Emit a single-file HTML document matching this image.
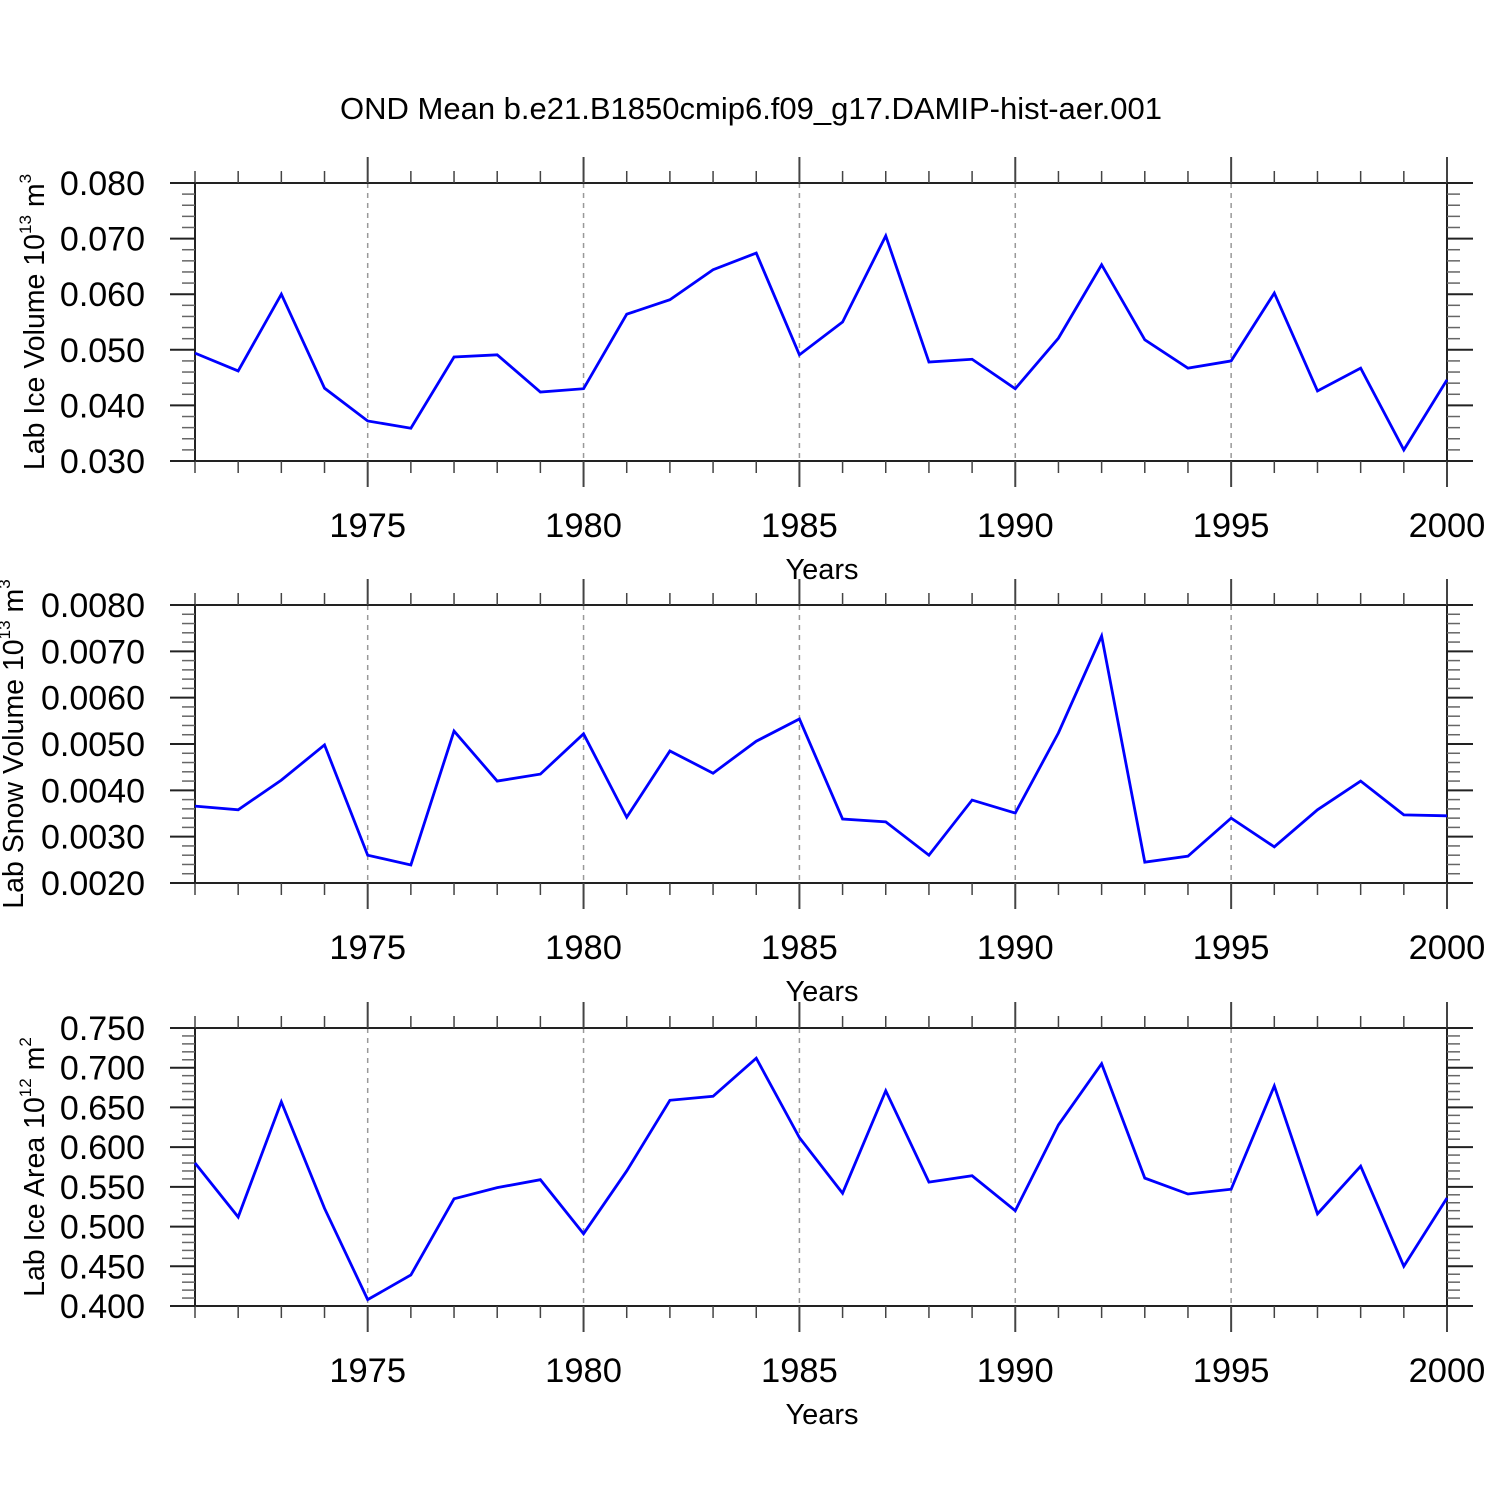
<!DOCTYPE html>
<html><head><meta charset="utf-8"><style>
html,body{margin:0;padding:0;background:#fff}
svg{display:block;font-family:"Liberation Sans",sans-serif}
</style></head><body>
<svg id="chart" width="1500" height="1500" viewBox="0 0 1500 1500">
<text x="751" y="119" font-size="31" text-anchor="middle">OND Mean b.e21.B1850cmip6.f09_g17.DAMIP-hist-aer.001</text>
</svg>
<script>
const years = [1971,1972,1973,1974,1975,1976,1977,1978,1979,1980,1981,1982,1983,1984,1985,1986,1987,1988,1989,1990,1991,1992,1993,1994,1995,1996,1997,1998,1999,2000];
const iceVolume = [0.0494,0.0462,0.0600,0.0431,0.0372,0.0359,0.0487,0.0491,0.0424,0.0430,0.0564,0.0590,0.0644,0.0674,0.0491,0.0550,0.0705,0.0478,0.0483,0.0430,0.0521,0.0653,0.0518,0.0467,0.0480,0.0602,0.0426,0.0467,0.0320,0.0446];
const snowVolume = [0.00366,0.00358,0.00422,0.00498,0.00260,0.00239,0.00528,0.00420,0.00435,0.00522,0.00342,0.00485,0.00437,0.00506,0.00554,0.00338,0.00332,0.00260,0.00379,0.00351,0.00524,0.00733,0.00245,0.00258,0.00340,0.00278,0.00358,0.00420,0.00347,0.00345];
const iceArea = [0.580,0.512,0.657,0.523,0.408,0.439,0.535,0.549,0.559,0.491,0.570,0.659,0.664,0.712,0.612,0.542,0.671,0.556,0.564,0.520,0.628,0.705,0.561,0.541,0.547,0.677,0.516,0.576,0.450,0.536];
const xTickLabels = ["1975","1980","1985","1990","1995","2000"];
const iceVolTicks = ["0.030","0.040","0.050","0.060","0.070","0.080"];
const snowVolTicks = ["0.0020","0.0030","0.0040","0.0050","0.0060","0.0070","0.0080"];
const iceAreaTicks = ["0.400","0.450","0.500","0.550","0.600","0.650","0.700","0.750"];

const svg = document.getElementById('chart');
const NS = 'http://www.w3.org/2000/svg';
function mk(tag, attrs, parent){const e=document.createElementNS(NS,tag);for(const k in attrs)e.setAttribute(k,attrs[k]);(parent||svg).appendChild(e);return e;}
const X0=195, X1=1447, XMIN=1971, XMAX=2000;
const xs = v => X0 + (v-XMIN)/(XMAX-XMIN)*(X1-X0);

function panel(name, top, bottom, values, ticks, nMinor, titleParts, titleX){
  const g = mk('g',{});
  
  
  const ymin=parseFloat(ticks[0]), ymax=parseFloat(ticks[ticks.length-1]);
  const ys = v => bottom - (v-ymin)/(ymax-ymin)*(bottom-top);
  for(let y=1975;y<2000;y+=5){
    const l=mk('line',{x1:xs(y),x2:xs(y),y1:top,y2:bottom,stroke:'#999','stroke-width':1.5,'stroke-dasharray':'5,5'},g);
    
    
  }
  mk('line',{x1:X0,x2:X0,y1:top,y2:bottom,stroke:'#222','stroke-width':2},g);
  mk('line',{x1:X1,x2:X1,y1:top,y2:bottom,stroke:'#222','stroke-width':2},g);
  mk('line',{x1:X0,x2:X1,y1:top,y2:top,stroke:'#222','stroke-width':2},g);
  mk('line',{x1:X0,x2:X1,y1:bottom,y2:bottom,stroke:'#222','stroke-width':2},g);
  for(let y=XMIN;y<=XMAX;y++){
    const maj = y%5===0, x=xs(y);
    const len = maj?26:12;
    mk('line',{x1:x,x2:x,y1:top-len,y2:top,stroke:'#444','stroke-width':maj?2:1.5},g);
    mk('line',{x1:x,x2:x,y1:bottom,y2:bottom+len,stroke:'#444','stroke-width':maj?2:1.5},g);
  }
  xTickLabels.forEach(s=>{
    const t=mk('text',{x:xs(parseFloat(s)),y:bottom+76,'font-size':34.5,'text-anchor':'middle'},g);
    t.textContent=s;
    
    
  });
  const xt=mk('text',{x:822,y:bottom+118,'font-size':29,'text-anchor':'middle'},g);
  xt.textContent='Years';
  
  
  for(let i=0;i<ticks.length;i++){
    const v=parseFloat(ticks[i]), y=ys(v);
    mk('line',{x1:X0-25,x2:X0,y1:y,y2:y,stroke:'#222','stroke-width':2},g);
    mk('line',{x1:X1,x2:X1+26,y1:y,y2:y,stroke:'#222','stroke-width':2},g);
    const t=mk('text',{x:145,y:y+12,'font-size':34,'text-anchor':'end'},g);
    t.textContent=ticks[i];
    
    
    if(i<ticks.length-1){
      const v2=parseFloat(ticks[i+1]);
      for(let k=1;k<nMinor;k++){
        const ym=ys(v+(v2-v)*k/nMinor);
        mk('line',{x1:X0-13,x2:X0,y1:ym,y2:ym,stroke:'#666','stroke-width':1.5},g);
        mk('line',{x1:X1,x2:X1+13,y1:ym,y2:ym,stroke:'#666','stroke-width':1.5},g);
      }
    }
  }
  const pts = values.map((v,i)=>xs(years[i])+','+ys(v)).join(' ');
  const pl=mk('polyline',{points:pts,fill:'none',stroke:'#0000ff','stroke-width':2.8,'stroke-linejoin':'miter'},g);
  
  
  const cy=(top+bottom)/2;
  const yt=mk('text',{transform:'translate('+titleX+','+cy+') rotate(-90)','font-size':28.5,'text-anchor':'middle'},g);
  
  
  const s1=mk('tspan',{},yt); s1.textContent=titleParts[0];
  const s2=mk('tspan',{'font-size':17,dy:-13},yt); s2.textContent=titleParts[1];
  const s3=mk('tspan',{dy:13},yt); s3.textContent=' m';
  const s4=mk('tspan',{'font-size':17,dy:-13},yt); s4.textContent=titleParts[2];
}
panel('ice-volume',183,461,iceVolume,iceVolTicks,5,['Lab Ice Volume 10','13','3'],44);
panel('snow-volume',605,883,snowVolume,snowVolTicks,5,['Lab Snow Volume 10','13','3'],23);
panel('ice-area',1028,1306,iceArea,iceAreaTicks,5,['Lab Ice Area 10','12','2'],44);
</script>
</body></html>
